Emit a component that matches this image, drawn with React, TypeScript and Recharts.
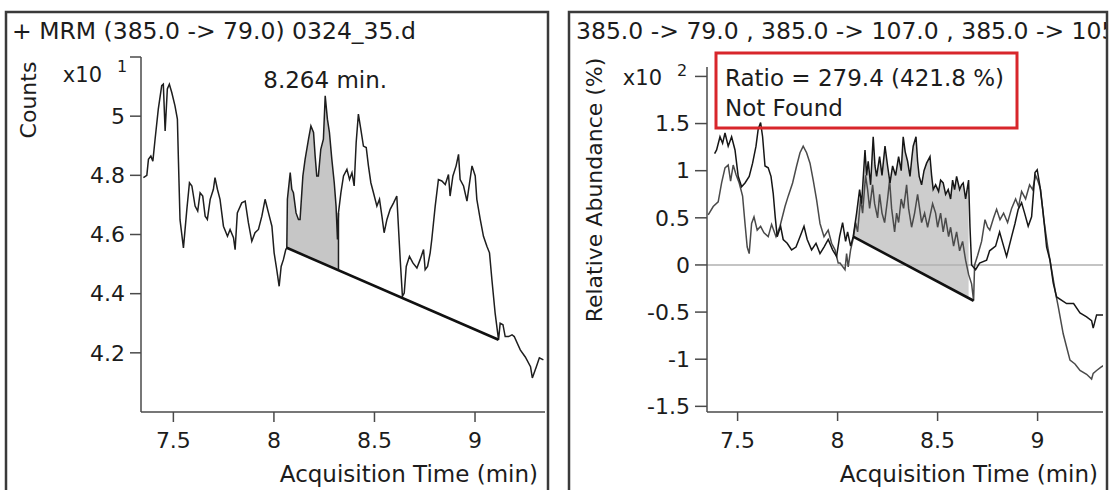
import { ComposedChart, Line, Area, XAxis, YAxis, ReferenceLine, ReferenceDot } from 'recharts';

// Left chromatogram: + MRM (385.0 -> 79.0), counts x10^1
const leftTime = [
  7.351, 7.368, 7.376, 7.388, 7.398, 7.409, 7.425, 7.442, 7.45, 7.459,
  7.47, 7.48, 7.492, 7.508, 7.52, 7.525, 7.533, 7.55, 7.567, 7.58,
  7.592, 7.608, 7.621, 7.633, 7.646, 7.658, 7.669, 7.683, 7.699, 7.707,
  7.719, 7.732, 7.749, 7.769, 7.782, 7.799, 7.807, 7.818, 7.84, 7.857,
  7.873, 7.89, 7.906, 7.923, 7.94, 7.956, 7.973, 7.99, 8.001, 8.014,
  8.026, 8.036, 8.047, 8.059, 8.064, 8.067, 8.081, 8.089, 8.097, 8.11,
  8.122, 8.13, 8.144, 8.155, 8.172, 8.184, 8.197, 8.205, 8.213, 8.221,
  8.233, 8.246, 8.255, 8.266, 8.276, 8.288, 8.3, 8.309, 8.316, 8.321,
  8.333, 8.346, 8.363, 8.376, 8.388, 8.399, 8.409, 8.42, 8.432, 8.445,
  8.459, 8.47, 8.482, 8.495, 8.512, 8.525, 8.537, 8.548, 8.562, 8.578,
  8.595, 8.611, 8.619, 8.628, 8.639, 8.648, 8.658, 8.674, 8.691, 8.711,
  8.727, 8.744, 8.752, 8.764, 8.777, 8.785, 8.802, 8.818, 8.835, 8.852,
  8.868, 8.876, 8.89, 8.906, 8.918, 8.926, 8.943, 8.96, 8.973, 8.985,
  9.001, 9.009, 9.026, 9.042, 9.059, 9.072, 9.084, 9.1, 9.117, 9.125,
  9.139, 9.15, 9.167, 9.184, 9.195, 9.225, 9.25, 9.276, 9.285, 9.305,
  9.32, 9.34,
];
const leftCounts = [
  4.792, 4.8, 4.854, 4.865, 4.848, 4.922, 5.024, 5.103, 5.108, 4.95,
  5.092, 5.108, 5.08, 5.035, 4.99, 4.854, 4.65, 4.555, 4.685, 4.775,
  4.764, 4.696, 4.679, 4.741, 4.73, 4.662, 4.651, 4.719, 4.753, 4.792,
  4.753, 4.719, 4.628, 4.594, 4.617, 4.589, 4.549, 4.673, 4.707, 4.713,
  4.64, 4.577, 4.606, 4.617, 4.662, 4.719, 4.673, 4.628, 4.538, 4.481,
  4.425, 4.492, 4.515, 4.549, 4.555, 4.719, 4.809, 4.753, 4.741, 4.673,
  4.651, 4.651, 4.798, 4.854, 4.922, 4.967, 4.945, 4.865, 4.798, 4.798,
  4.888, 4.922, 5.069, 4.99, 4.945, 4.854, 4.775, 4.696, 4.583, 4.673,
  4.741, 4.798, 4.82, 4.786, 4.809, 4.764, 4.911, 5.007, 4.956, 4.899,
  4.894, 4.832, 4.775, 4.741, 4.696, 4.719, 4.662, 4.606, 4.651, 4.685,
  4.707, 4.73, 4.628, 4.515, 4.391, 4.402, 4.492, 4.526, 4.504, 4.487,
  4.515, 4.549, 4.481, 4.492, 4.538, 4.583, 4.696, 4.786, 4.781, 4.769,
  4.803, 4.73, 4.798, 4.832, 4.871, 4.786, 4.764, 4.713, 4.775, 4.832,
  4.798, 4.719, 4.651, 4.594, 4.56, 4.538, 4.447, 4.334, 4.244, 4.3,
  4.295, 4.255, 4.255, 4.261, 4.255, 4.21, 4.186, 4.153, 4.115, 4.153,
  4.183, 4.176,
];
const leftBaseTime = [8.064, 9.117];
const leftBaseCounts = [4.555, 4.244];
const leftShadeEnd = 8.321;
const leftPeakTime = 8.255;
const leftPeakCounts = 5.069;
const leftPeakLabel = '8.264 min.';
const leftXTicks = [7.5, 8, 8.5, 9];
const leftYTicks = [4.2, 4.4, 4.6, 4.8, 5, 5.2];

// Right overlay of the qualifier transitions, relative abundance x10^2 (%)
const rightTimeA = [
  7.353, 7.378, 7.403, 7.42, 7.437, 7.453, 7.465, 7.478, 7.492, 7.508,
  7.525, 7.537, 7.548, 7.558, 7.57, 7.582, 7.598, 7.615, 7.632, 7.653,
  7.67, 7.692, 7.712, 7.737, 7.753, 7.775, 7.795, 7.812, 7.828, 7.845,
  7.862, 7.878, 7.895, 7.912, 7.932, 7.953, 7.97, 7.987, 8.003, 8.012,
  8.037, 8.045, 8.053, 8.065, 8.078, 8.09, 8.1, 8.115, 8.125, 8.14,
  8.15, 8.16, 8.175, 8.185, 8.2, 8.21, 8.222, 8.235, 8.25, 8.26,
  8.27, 8.285, 8.295, 8.305, 8.318, 8.33, 8.345, 8.355, 8.37, 8.385,
  8.4, 8.41, 8.42, 8.435, 8.45, 8.46, 8.475, 8.49, 8.5, 8.515,
  8.528, 8.54, 8.555, 8.565, 8.58, 8.595, 8.61, 8.625, 8.64, 8.655,
  8.67, 8.68, 8.685, 8.7, 8.72, 8.737, 8.75, 8.761, 8.78, 8.795,
  8.812, 8.83, 8.85, 8.87, 8.89, 8.905, 8.92, 8.94, 8.96, 8.975,
  8.99, 9.0, 9.015, 9.03, 9.05, 9.07, 9.09, 9.103, 9.128, 9.145,
  9.162, 9.187, 9.212, 9.245, 9.27, 9.278, 9.295, 9.32, 9.337,
];
const rightAbundA = [
  0.53, 0.62, 0.67, 0.87, 1.03, 1.06, 0.89, 1.06, 0.96, 0.87,
  0.73, 0.44, 0.19, 0.12, 0.44, 0.51, 0.37, 0.41, 0.34, 0.3,
  0.43, 0.3, 0.41, 0.62, 0.73, 0.87, 1.05, 1.19, 1.26, 1.19,
  1.08, 0.9, 0.69, 0.44, 0.3, 0.37, 0.23, 0.16, 0.02, 0.02,
  -0.05, 0.12, -0.02, 0.16, 0.28, 0.45, 0.35, 0.7, 0.55, 0.95,
  0.8, 0.6, 0.85, 0.65, 0.5, 0.75, 0.55, 0.45, 0.7, 0.9,
  0.6, 0.35, 0.55, 0.45, 0.7, 0.6, 0.85, 0.6, 0.4, 0.55,
  0.75, 0.6, 0.45, 0.55, 0.4, 0.5, 0.65, 0.55, 0.4, 0.55,
  0.35, 0.5, 0.3, 0.4, 0.2, 0.35, 0.15, 0.25, 0.05, -0.1,
  -0.2, -0.38, 0.0, 0.1, 0.25, 0.48, 0.4, 0.37, 0.5, 0.59,
  0.48, 0.55, 0.45, 0.6, 0.7, 0.62, 0.78, 0.7, 0.85, 0.8,
  0.95, 0.9, 0.8, 0.5, 0.2, -0.05, -0.3, -0.44, -0.73, -0.87,
  -1.01, -1.05, -1.12, -1.16, -1.21, -1.15, -1.12, -1.08, -1.06,
];
const rightTimeB = [
  7.385, 7.395, 7.412, 7.425, 7.437, 7.453, 7.47, 7.487, 7.503, 7.52,
  7.537, 7.558, 7.575, 7.592, 7.603, 7.615, 7.625, 7.637, 7.653, 7.667,
  7.678, 7.688, 7.698, 7.715, 7.728, 7.748, 7.77, 7.792, 7.812, 7.832,
  7.848, 7.87, 7.892, 7.912, 7.932, 7.953, 7.975, 7.995, 8.01, 8.025,
  8.04, 8.05, 8.065, 8.078, 8.095,
  8.11, 8.12, 8.137, 8.145, 8.153, 8.165, 8.178, 8.187, 8.195, 8.21,
  8.222, 8.237, 8.25, 8.262, 8.275, 8.29, 8.305, 8.318, 8.328, 8.338,
  8.35, 8.362, 8.372, 8.378, 8.392, 8.4, 8.408, 8.42, 8.432, 8.445,
  8.462, 8.47, 8.478, 8.49, 8.505, 8.515, 8.528, 8.54, 8.553, 8.565,
  8.575, 8.585, 8.595, 8.61, 8.62, 8.628, 8.64, 8.655,
  8.662, 8.67, 8.69, 8.71, 8.745, 8.76, 8.79, 8.81, 8.83, 8.845,
  8.87, 8.887, 8.903, 8.92, 8.935, 8.953, 8.97, 8.987, 8.998, 9.012,
  9.028, 9.045, 9.062, 9.078, 9.095, 9.145, 9.18, 9.212, 9.245, 9.27,
  9.278, 9.295, 9.328,
];
const rightAbundB = [
  1.18, 1.22, 1.36, 1.29, 1.4, 1.26, 1.36, 1.22, 0.94, 0.83,
  0.87, 0.94, 1.08, 1.26, 1.44, 1.51, 1.36, 1.05, 1.03, 0.94,
  0.76, 0.51, 0.3, 0.41, 0.27, 0.23, 0.16, 0.19, 0.3, 0.41,
  0.27, 0.16, 0.23, 0.12, 0.19, 0.27, 0.16, 0.09, 0.3, 0.45,
  0.25, 0.35, 0.2, 0.3, 0.55,
  0.8, 0.65, 1.22, 0.95, 1.1, 0.85, 1.36, 1.05, 0.94, 1.15,
  0.95, 1.26, 1.05, 0.87, 1.05, 0.95, 1.15, 1.0, 1.36, 1.2,
  1.1, 0.94, 1.15, 1.26, 1.36, 1.1, 0.94, 0.85, 1.0, 1.08,
  1.15, 0.95, 0.8, 0.85, 0.78, 0.9, 0.87, 0.75, 0.8, 0.7,
  0.9, 0.8, 0.94, 0.8, 0.85, 0.87, 0.7, 0.9,
  0.4, 0.0, -0.05, 0.02, 0.05, 0.15, 0.2, 0.35, 0.2, 0.09,
  0.3, 0.44, 0.59, 0.66, 0.55, 0.41, 0.51, 0.98, 1.01, 0.83,
  0.55, 0.19, 0.05, -0.19, -0.34, -0.41, -0.41, -0.51, -0.55, -0.59,
  -0.67, -0.53, -0.53,
];
const rightBaseTime = [8.078, 8.68];
const rightBaseAbund = [0.3, -0.38];
const rightShadeEnd = 8.655;
const rightXTicks = [7.5, 8, 8.5, 9];
const rightYTicks = [-1.5, -1, -0.5, 0, 0.5, 1, 1.5, 2];

const FONT = '"DejaVu Sans", Arial, sans-serif';
const INK = '#1c1c1c';
const tickStyle = { fontFamily: FONT, fontSize: 22, fill: INK };

// straight integration baseline between its two end points
const baseAt = (t: number, ts: number[], vs: number[]) =>
  vs[0] + ((vs[1] - vs[0]) * (t - ts[0])) / (ts[1] - ts[0]);

const leftSignal = leftTime.map((t, i) => ({ t, v: leftCounts[i] }));
const leftBase = leftBaseTime.map((t, i) => ({ t, v: leftBaseCounts[i] }));
const leftShade = leftSignal
  .filter((p) => p.t >= leftBaseTime[0] && p.t <= leftShadeEnd)
  .map((p) => ({ t: p.t, band: [baseAt(p.t, leftBaseTime, leftBaseCounts), p.v] }));
const leftEdgeTop = leftSignal.find((p) => p.t === leftShadeEnd)!.v;

const rightA = rightTimeA.map((t, i) => ({ t, v: rightAbundA[i] }));
const rightB = rightTimeB.map((t, i) => ({ t, v: rightAbundB[i] }));
const rightBase = rightBaseTime.map((t, i) => ({ t, v: rightBaseAbund[i] }));
const rightShade = rightB
  .filter((p) => p.t >= rightBaseTime[0] && p.t <= rightShadeEnd)
  .map((p) => ({ t: p.t, band: [baseAt(p.t, rightBaseTime, rightBaseAbund), p.v] }));

const axisLine = { stroke: '#4a4a4a', strokeWidth: 1.5 };

function LeftPanel() {
  return (
    <ComposedChart width={560} height={490} margin={{ top: 57, right: 15, bottom: 48, left: 81 }}>
      <XAxis
        dataKey="t"
        type="number"
        domain={[7.339, 9.348]}
        ticks={leftXTicks}
        interval={0}
        allowDataOverflow
        height={30}
        tick={tickStyle}
        tickSize={10}
        tickMargin={10}
        axisLine={axisLine}
        tickLine={axisLine}
      />
      <YAxis
        type="number"
        domain={[4.0, 5.2]}
        ticks={leftYTicks}
        interval={0}
        allowDataOverflow
        width={60}
        tick={tickStyle}
        tickSize={11}
        tickMargin={5}
        axisLine={axisLine}
        tickLine={axisLine}
        tickFormatter={(v: number) => (v === 5.2 ? '' : String(v))}
      />
      <Area data={leftShade} dataKey="band" type="linear" stroke="none" fill="#c6c6c6" fillOpacity={1} isAnimationActive={false} />
      <Line data={leftSignal} dataKey="v" type="linear" stroke="#1e1e1e" strokeWidth={1.5} dot={false} isAnimationActive={false} />
      <Line data={leftBase} dataKey="v" type="linear" stroke="#111" strokeWidth={2.6} dot={false} isAnimationActive={false} />
      <ReferenceLine
        segment={[
          { x: leftShadeEnd, y: baseAt(leftShadeEnd, leftBaseTime, leftBaseCounts) },
          { x: leftShadeEnd, y: leftEdgeTop },
        ]}
        stroke="#1e1e1e"
        strokeWidth={1.5}
      />
      <ReferenceDot
        x={leftPeakTime}
        y={leftPeakCounts}
        r={0}
        stroke="none"
        label={{ value: leftPeakLabel, position: 'top', offset: 8, fontFamily: FONT, fontSize: 23, fill: INK }}
      />
    </ComposedChart>
  );
}

function RightPanel() {
  return (
    <ComposedChart width={551} height={490} margin={{ top: 67, right: 8, bottom: 48, left: 87 }}>
      <XAxis
        dataKey="t"
        type="number"
        domain={[7.347, 9.327]}
        ticks={rightXTicks}
        interval={0}
        allowDataOverflow
        height={30}
        tick={tickStyle}
        tickSize={9}
        tickMargin={11}
        axisLine={axisLine}
        tickLine={axisLine}
      />
      <YAxis
        type="number"
        domain={[-1.56, 2.1]}
        ticks={rightYTicks}
        interval={0}
        allowDataOverflow
        width={60}
        tick={tickStyle}
        tickSize={12}
        tickMargin={5}
        axisLine={axisLine}
        tickLine={axisLine}
        tickFormatter={(v: number) => (v === 2 ? '' : String(v))}
      />
      <ReferenceLine y={0} stroke="#b0b0b0" strokeWidth={1.5} />
      <Area data={rightShade} dataKey="band" type="linear" stroke="none" fill="#cdcdcd" fillOpacity={1} isAnimationActive={false} />
      <Line data={rightA} dataKey="v" type="linear" stroke="#4a4a4a" strokeWidth={1.5} dot={false} isAnimationActive={false} />
      <Line data={rightB} dataKey="v" type="linear" stroke="#161616" strokeWidth={1.5} dot={false} isAnimationActive={false} />
      <Line data={rightBase} dataKey="v" type="linear" stroke="#111" strokeWidth={2.6} dot={false} isAnimationActive={false} />
    </ComposedChart>
  );
}

export default function App() {
  return (
    <div style={{ position: 'absolute', left: 0, top: 0, width: 1111, height: 490, background: '#fff', overflow: 'hidden' }}>
      <div style={{ position: 'absolute', left: 0, top: 0 }}>
        <LeftPanel />
      </div>
      <div style={{ position: 'absolute', left: 560, top: 0 }}>
        <RightPanel />
      </div>
      <svg width={1111} height={490} style={{ position: 'absolute', left: 0, top: 0, pointerEvents: 'none' }}>
        <defs>
          <clipPath id="rightFrame">
            <rect x={569} y={12} width={537} height={480} />
          </clipPath>
        </defs>
        <rect x={6} y={12} width={542} height={500} fill="none" stroke="#3a3a3a" strokeWidth={2.5} />
        <rect x={569} y={12} width={538} height={500} fill="none" stroke="#3a3a3a" strokeWidth={2.5} />
        <g fontFamily={FONT} fill={INK}>
          <text x={12} y={39} fontSize={23.5}>{'+ MRM (385.0 -> 79.0) 0324_35.d'}</text>
          <text x={576} y={39} fontSize={23.5} clipPath="url(#rightFrame)">
            {'385.0 -> 79.0 , 385.0 -> 107.0 , 385.0 -> 105.0'}
          </text>
          <text transform="translate(36,100) rotate(-90)" textAnchor="middle" fontSize={22}>Counts</text>
          <text transform="translate(602,190) rotate(-90)" textAnchor="middle" fontSize={22}>Relative Abundance (%)</text>
          <text x={102} y={82} textAnchor="end" fontSize={21}>x10</text>
          <text x={117} y={72} fontSize={16}>1</text>
          <text x={662} y={85} textAnchor="end" fontSize={21}>x10</text>
          <text x={677} y={76} fontSize={16}>2</text>
          <text x={538} y={482} textAnchor="end" fontSize={23}>Acquisition Time (min)</text>
          <text x={1098} y={482} textAnchor="end" fontSize={23}>Acquisition Time (min)</text>
        </g>
        <rect x={716} y={53} width={301} height={75} fill="none" stroke="#d8262b" strokeWidth={3} />
        <g fontFamily={FONT} fill={INK} fontSize={23}>
          <text x={725} y={86}>Ratio = 279.4 (421.8 %)</text>
          <text x={725} y={116}>Not Found</text>
        </g>
      </svg>
    </div>
  );
}
